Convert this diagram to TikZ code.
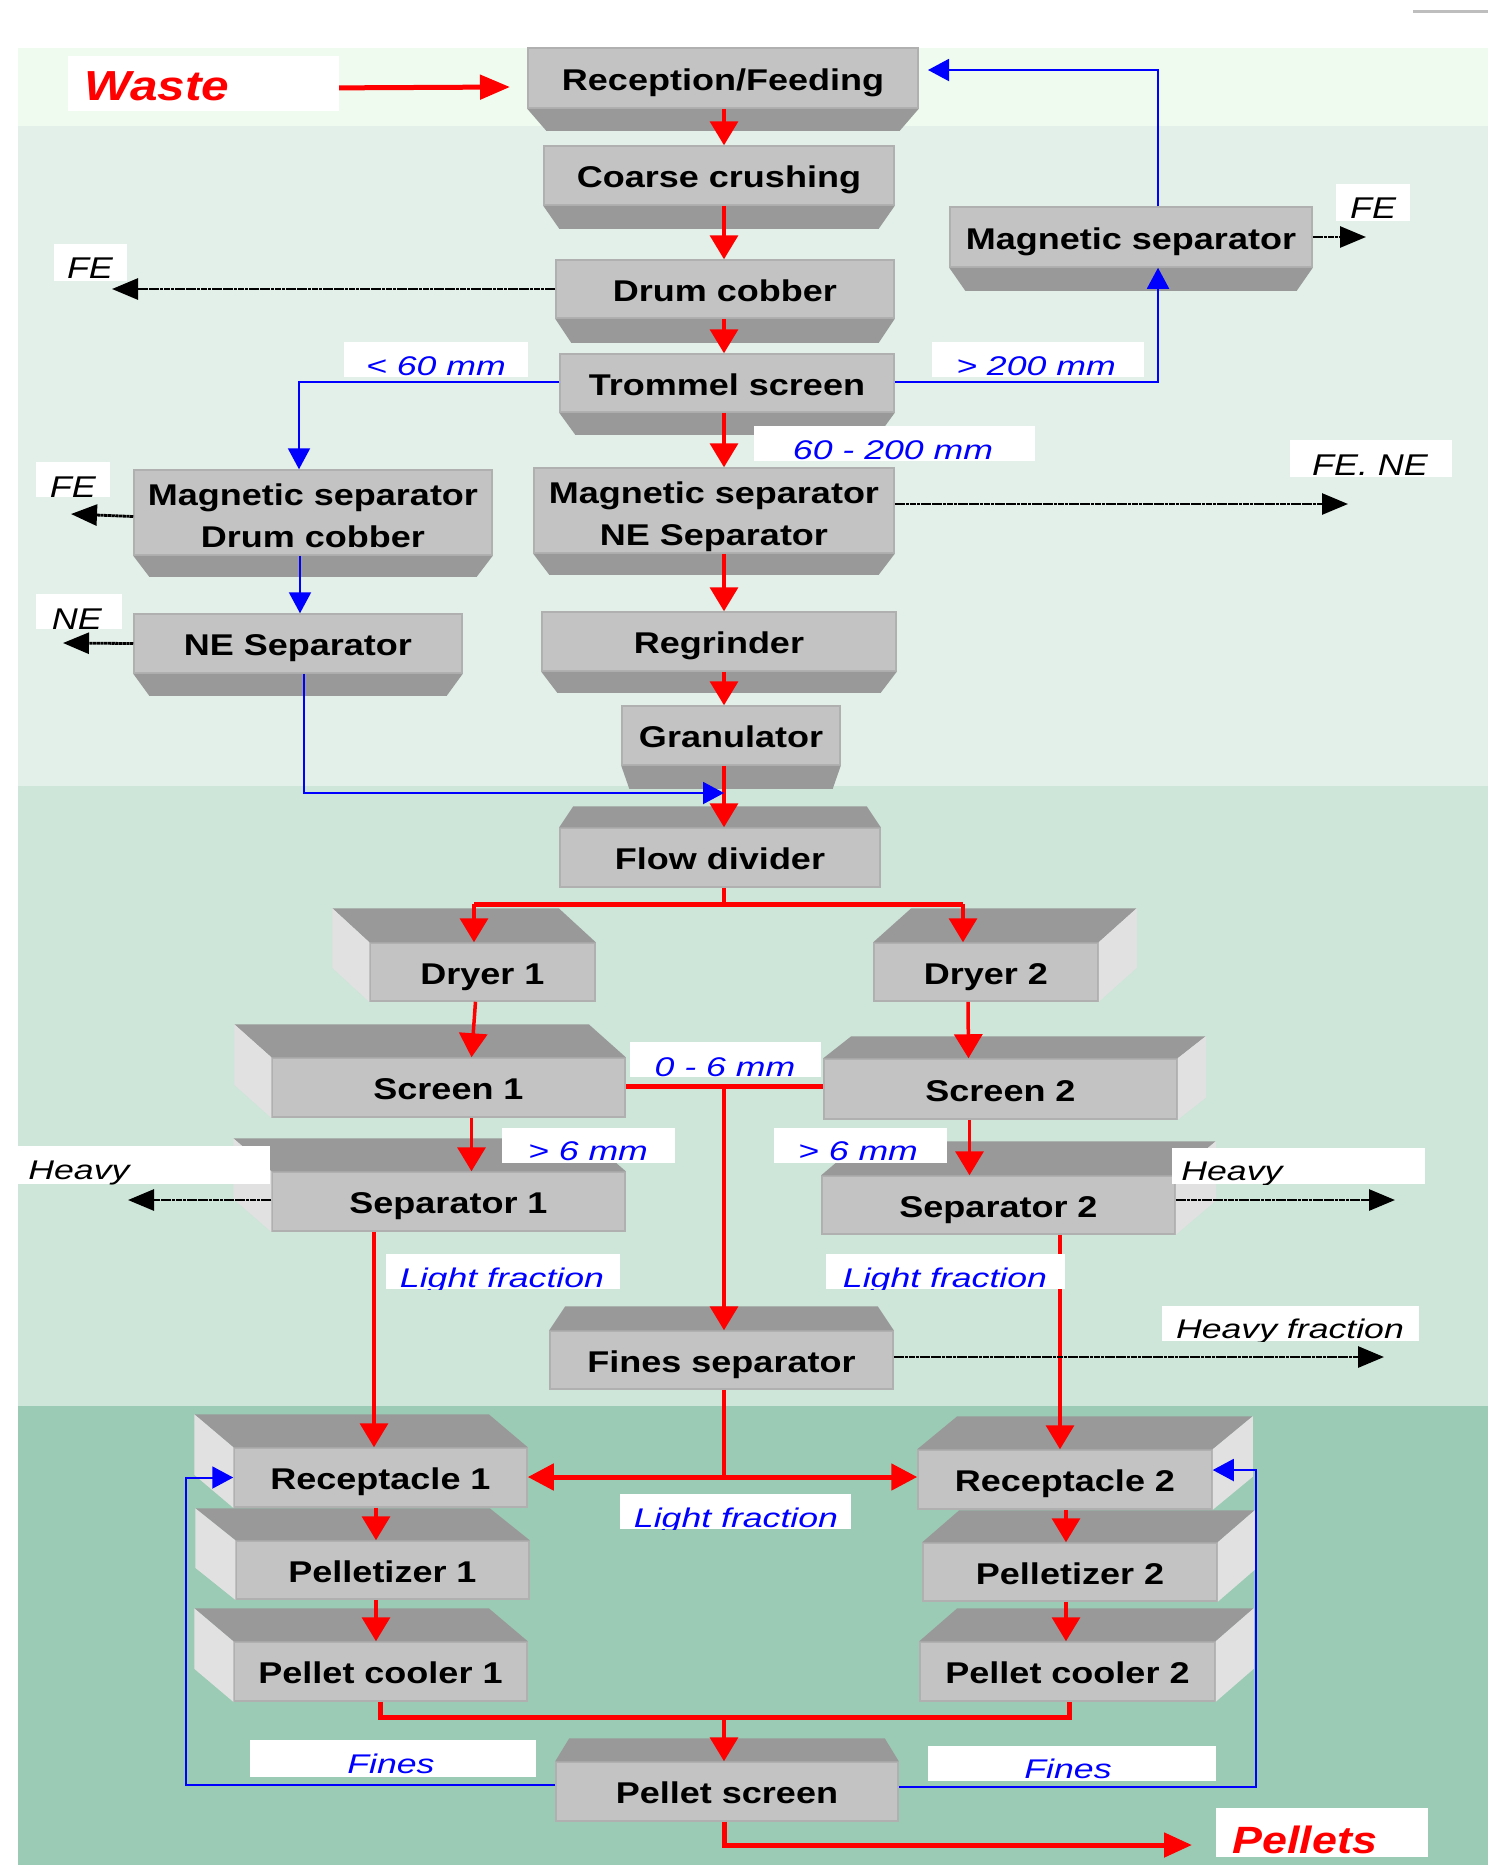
\documentclass[tikz,border=0pt]{standalone}
\usepackage{fontspec}
\usetikzlibrary{arrows.meta,calc}
\newfontfamily\bxf{Liberation Sans Bold}[FakeStretch=1.2]
\newfontfamily\lbf{Liberation Sans Italic}[FakeStretch=1.32]
\newfontfamily\fef{Liberation Sans Italic}[FakeStretch=1.2]
\newfontfamily\wpf{Liberation Sans Bold Italic}[FakeStretch=1.18]
\definecolor{faceC}{HTML}{C3C3C3}
\definecolor{edgeC}{HTML}{B0B0B0}
\definecolor{darkC}{HTML}{999999}
\definecolor{sideC}{HTML}{E1E1E1}
\definecolor{bgT}{HTML}{EEFBEE}
\definecolor{bgA}{HTML}{E3F0E9}
\definecolor{bgB}{HTML}{CEE5D9}
\definecolor{bgC}{HTML}{9BCBB4}
\definecolor{myred}{HTML}{FF0000}
\definecolor{myblue}{HTML}{0000FF}
\definecolor{lineG}{HTML}{BEBEBE}
\tikzset{
 bx/.style={fill=faceC, draw=edgeC, line width=0.75pt, inner sep=0pt,
   font=\bxf\fontsize{15}{21}\selectfont, align=center, text height=12pt, text depth=0pt},
 bxtwo/.style={bx, text height=34.5pt, text depth=0pt},
 redA/.style={draw=myred, line width=1.75pt, -{Triangle[length=12pt,width=14pt]}},
 redL/.style={draw=myred, line width=1.75pt},
 redT/.style={draw=myred, line width=2.5pt},
 blueA/.style={draw=myblue, line width=1pt, -{Triangle[length=10.5pt,width=11pt]}},
 blackA/.style={draw=black, line width=1.4pt, dash pattern=on 1.6pt off 0.25pt, -{Triangle[length=13pt,width=10.5pt]}},
 lblB/.style={font=\lbf\fontsize{13.5}{16}\selectfont, text=myblue, anchor=base},
 lblK/.style={font=\lbf\fontsize{13.5}{16}\selectfont, text=black, anchor=base},
 lblKw/.style={font=\lbf\fontsize{13.5}{16}\selectfont, text=black, anchor=base west},
 feK/.style={font=\fef\fontsize{15}{18}\selectfont, text=black, anchor=base},
 wasteS/.style={font=\wpf\fontsize{21}{24}\selectfont, text=myred, anchor=base west},
 pelS/.style={font=\wpf\fontsize{19}{22}\selectfont, text=myred, anchor=base west},
}
% trapezoid below face: name, dy, inset
\newcommand\bxBelow[3]{\fill[darkC] (#1.south west) -- (#1.south east) -- ([shift={(-#3,#2)}]#1.south east) -- ([shift={(#3,#2)}]#1.south west) -- cycle;}
% trapezoid above face
\newcommand\bxAbove[3]{\fill[darkC] (#1.north west) -- (#1.north east) -- ([shift={(-#3,-#2)}]#1.north east) -- ([shift={(#3,-#2)}]#1.north west) -- cycle;}
% 3D box, side at left: name, dx, dy
\newcommand\bxLeft[3]{%
 \fill[darkC] (#1.north west) -- (#1.north east) -- ([shift={(-#2,-#3)}]#1.north east) -- ([shift={(-#2,-#3)}]#1.north west) -- cycle;
 \fill[sideC] (#1.north west) -- ([shift={(-#2,-#3)}]#1.north west) -- ([shift={(-#2,-#3)}]#1.south west) -- (#1.south west) -- cycle;}
% 3D box, side at right
\newcommand\bxRight[3]{%
 \fill[darkC] (#1.north west) -- (#1.north east) -- ([shift={(#2,-#3)}]#1.north east) -- ([shift={(#2,-#3)}]#1.north west) -- cycle;
 \fill[sideC] (#1.north east) -- ([shift={(#2,-#3)}]#1.north east) -- ([shift={(#2,-#3)}]#1.south east) -- (#1.south east) -- cycle;}
% label: name, x1,y1,x2,y2, style, x, y, text
\newcommand\lbl[9]{\begin{scope}\fill[white] (#2,#3) rectangle (#4,#5);\clip (#2,#3) rectangle (#4,#5);\node[inner sep=0pt,#6] (#1) at (#7,#8) {#9};\end{scope}}
\begin{document}
\begin{tikzpicture}[x=0.5pt,y=-0.5pt]
\useasboundingbox (0,0) rectangle (1488,1865);
% backgrounds
\fill[white] (0,0) rectangle (1488,1865);
\fill[bgT] (18,48) rectangle (1488,126);
\fill[bgA] (18,126) rectangle (1488,786);
\fill[bgB] (18,786) rectangle (1488,1406);
\fill[bgC] (18,1406) rectangle (1488,1865);
\draw[lineG, line width=1.5pt] (1413,11.5) -- (1488,11.5);

% upper boxes
\node[bx, minimum width=195pt, minimum height=30pt] (rec) at (723,78) {Reception/Feeding};
\bxBelow{rec}{22}{19}
\node[bx, minimum width=175pt, minimum height=29.5pt] (coarse) at (719,175.5) {Coarse crushing};
\bxBelow{coarse}{23}{16}
\node[bx, minimum width=169pt, minimum height=29pt] (drum) at (725,289) {Drum cobber};
\bxBelow{drum}{24}{16}
\node[bx, minimum width=167pt, minimum height=29pt] (trommel) at (727,383) {Trommel screen};
\bxBelow{trommel}{22}{16}
\node[bx, minimum width=181pt, minimum height=30pt] (magR) at (1131,237) {Magnetic separator};
\bxBelow{magR}{23}{16}
\node[bxtwo, minimum width=179pt, minimum height=42.5pt] (magL) at (313,512.5) {Magnetic separator\\Drum cobber};
\bxBelow{magL}{21}{16}
\node[bxtwo, minimum width=180pt, minimum height=42.5pt] (magNE) at (714,510.5) {Magnetic separator\\NE Separator};
\bxBelow{magNE}{21}{16}
\node[bx, minimum width=164pt, minimum height=29.5pt] (neSep) at (298,643.5) {NE Separator};
\bxBelow{neSep}{22}{16}
\node[bx, minimum width=177pt, minimum height=29.5pt] (regr) at (719,641.5) {Regrinder};
\bxBelow{regr}{21}{16}
\node[bx, minimum width=109pt, minimum height=29.5pt] (gran) at (731,735.5) {Granulator};
\bxBelow{gran}{23}{8}
% inverted funnels
\node[bx, minimum width=160pt, minimum height=29.5pt] (flow) at (720,857.5) {Flow divider};
\bxAbove{flow}{21}{14}
\node[bx, minimum width=171.5pt, minimum height=29pt] (fines) at (721.5,1360) {Fines separator};
\bxAbove{fines}{24}{16}
\node[bx, minimum width=171pt, minimum height=29.5pt] (pscreen) at (727,1791.5) {Pellet screen};
\bxAbove{pscreen}{23}{14}
% 3D boxes
\node[bx, minimum width=112.5pt, minimum height=29pt] (dryer1) at (482.5,972) {Dryer 1};
\bxLeft{dryer1}{37}{34}
\node[bx, minimum width=112pt, minimum height=29pt] (dryer2) at (986,972) {Dryer 2};
\bxRight{dryer2}{38}{34}
\node[bx, minimum width=176.5pt, minimum height=29.5pt] (screen1) at (448.5,1087.5) {Screen 1};
\bxLeft{screen1}{37}{33}
\node[bx, minimum width=176.5pt, minimum height=30pt] (screen2) at (1000.5,1089) {Screen 2};
\bxRight{screen2}{28}{22}
\node[bx, minimum width=176.5pt, minimum height=29.5pt] (sep1) at (448.5,1201.5) {Separator 1};
\bxLeft{sep1}{38}{33}
\node[bx, minimum width=176.5pt, minimum height=29pt] (sep2) at (998.5,1205) {Separator 2};
\bxRight{sep2}{40}{34}
\node[bx, minimum width=146.5pt, minimum height=29.5pt] (rcp1) at (380.5,1477.5) {Receptacle 1};
\bxLeft{rcp1}{39}{33}
\node[bx, minimum width=147pt, minimum height=29.5pt] (rcp2) at (1065,1479.5) {Receptacle 2};
\bxRight{rcp2}{40}{33}
\node[bx, minimum width=146.5pt, minimum height=29pt] (pel1) at (382.5,1570) {Pelletizer 1};
\bxLeft{pel1}{40}{32}
\node[bx, minimum width=147pt, minimum height=29pt] (pel2) at (1070,1572) {Pelletizer 2};
\bxRight{pel2}{37}{32}
\node[bx, minimum width=146.5pt, minimum height=29.5pt] (cool1) at (380.5,1671.5) {Pellet cooler 1};
\bxLeft{cool1}{39}{33}
\node[bx, minimum width=147.5pt, minimum height=29.5pt] (cool2) at (1067.5,1671.5) {Pellet cooler 2};
\bxRight{cool2}{38}{33}

% coordinates
\coordinate (colx) at (724,0);
\coordinate (fsplit) at (724,904);
\coordinate (fL) at (474,904);
\coordinate (fR) at (963,904);
\coordinate (sc6) at (724,1086);
\coordinate (lx) at (374,0);
\coordinate (rx) at (1060,0);
\coordinate (fs) at (724,1477);
\coordinate (lx2) at (376,0);
\coordinate (rx2) at (1066,0);
\coordinate (cL) at (380,1717);
\coordinate (cR) at (1069,1717);
\coordinate (cj) at (724,1717);
\coordinate (pe) at (1192,1845);
\coordinate (wA) at (314,88);
\coordinate (wB) at (510,87);

% red connectors
\draw[redT, -{Triangle[length=15pt,width=12pt]}] (wA) -- (wB);
\draw[redA] (colx |- rec.south) -- (colx |- coarse.north);
\draw[redA] (colx |- coarse.south) -- (colx |- drum.north);
\draw[redA] (colx |- drum.south) -- (colx |- trommel.north);
\draw[redA] (colx |- trommel.south) -- (colx |- magNE.north);
\draw[redA] (colx |- magNE.south) -- (colx |- regr.north);
\draw[redA] (colx |- regr.south) -- (colx |- gran.north);
\draw[redA] (colx |- gran.south) -- (colx |- flow.north);
\draw[redL] (colx |- flow.south) -- (fsplit);
\draw[redT] (fL) -- (fR);
\draw[redA] (fL) -- (fL |- dryer1.north);
\draw[redA] (fR) -- (fR |- dryer2.north);
\draw[redA] ([shift={(-7,0)}]dryer1.south) -- ([shift={(23,0)}]screen1.north);
\draw[redA] ([shift={(-18,0)}]dryer2.south) -- ([shift={(-32,0)}]screen2.north);
\draw[redA] ([shift={(23,0)}]screen1.south) -- ([shift={(23,0)}]sep1.north);
\draw[redA] ([shift={(-31,0)}]screen2.south) -- ([shift={(-29,0)}]sep2.north);
\draw[redT] (screen1.east |- sc6) -- (screen2.west |- sc6);
\draw[redA] (sc6) -- (colx |- fines.north);
\draw[redA] (lx |- sep1.south) -- (lx |- rcp1.north);
\draw[redA] (rx |- sep2.south) -- (rx |- rcp2.north);
\draw[redL] (colx |- fines.south) -- (fs);
\draw[redT, {Triangle[length=13pt,width=13pt]}-{Triangle[length=13pt,width=13pt]}] (rcp1.east |- fs) -- (rcp2.west |- fs);
\draw[redA] (lx2 |- rcp1.south) -- (lx2 |- pel1.north);
\draw[redA] (lx2 |- pel1.south) -- (lx2 |- cool1.north);
\draw[redA] (rx2 |- rcp2.south) -- (rx2 |- pel2.north);
\draw[redA] (rx2 |- pel2.south) -- (rx2 |- cool2.north);
\draw[redT] (cL |- cool1.south) -- (cL) -- (cR) -- (cR |- cool2.south);
\draw[redA] (cj) -- (colx |- pscreen.north);
\draw[redT, -{Triangle[length=14pt,width=12pt]}] (colx |- pscreen.south) -- (colx |- pe) -- (pe);

% blue connectors
\coordinate (bL) at (299,382);
\coordinate (bR) at (1158,382);
\coordinate (bT) at (1158,70);
\coordinate (bTe) at (928,70);
\coordinate (lb) at (300,0);
\coordinate (nb) at (304,793);
\coordinate (fl) at (186,1785);
\coordinate (fr) at (1256,1787);
\coordinate (fr2) at (1256,1470);
\draw[blueA] (trommel.west |- bL) -- (bL) -- (bL |- magL.north);
\draw[blueA] (trommel.east |- bR) -- (bR) -- (bR |- magR.south);
\draw[blueA] (bT |- magR.north) -- (bT) -- (bTe);
\draw[blueA] (lb |- magL.south) -- (lb |- neSep.north);
\draw[blueA] (nb |- neSep.south) -- (nb) -- (colx |- nb);
\draw[blueA] (pscreen.west |- fl) -- (fl) -- (fl |- rcp1.west) -- (rcp1.west);
\draw[blueA] (pscreen.east |- fr) -- (fr) -- (fr2) -- (rcp2.east |- fr2);

% black connectors
\coordinate (k1) at (112,292);
\coordinate (k2) at (1366,236);
\coordinate (k3) at (71,514);
\coordinate (k4) at (63,643);
\coordinate (k5) at (1348,504);
\coordinate (k6) at (128,1200);
\coordinate (k7) at (1395,1200);
\coordinate (k8) at (1384,1357);
\draw[blackA] (drum.west) -- (k1 |- drum.west);
\draw[blackA] (magR.east) -- (k2 |- magR.east);
\draw[blackA] ([shift={(0,4)}]magL.west) -- (k3);
\draw[blackA] (neSep.west) -- (k4);
\draw[blackA] (magNE.east |- k5) -- (k5);
\draw[blackA] (sep1.west |- k6) -- (k6);
\draw[blackA] (sep2.east |- k7) -- (k7);
\draw[blackA] (fines.east |- k8) -- (k8);

% labels
\lbl{lWaste}{68}{56}{339}{111}{wasteS}{84}{100}{Waste}
\lbl{l60}{344}{342}{528}{377}{lblB}{436}{375}{< 60 mm}
\lbl{l200}{932}{342}{1144}{377}{lblB}{1036}{375}{> 200 mm}
\lbl{l60200}{754}{426}{1035}{461}{lblB}{893}{459}{60 - 200 mm}
\lbl{lFE1}{54}{244}{127}{281}{feK}{90}{278}{FE}
\lbl{lFE2}{1336}{184}{1410}{221}{feK}{1373}{218}{FE}
\lbl{lFENE}{1290}{440}{1452}{477}{feK}{1370}{475}{FE. NE}
\lbl{lFE3}{36}{462}{110}{497}{feK}{73}{497}{FE}
\lbl{lNE}{36}{594}{122}{629}{feK}{77}{629}{NE}
\lbl{l06}{630}{1042}{821}{1077}{lblB}{725}{1076}{0 - 6 mm}
\lbl{l6a}{502}{1128}{675}{1163}{lblB}{588}{1160}{> 6 mm}
\lbl{l6b}{774}{1128}{947}{1163}{lblB}{858}{1160}{> 6 mm}
\lbl{lHv1}{18}{1146}{270}{1184}{lblKw}{28}{1179}{Heavy}
\lbl{lHv2}{1172}{1148}{1425}{1184}{lblKw}{1181}{1180}{Heavy}
\lbl{lLf1}{386}{1254}{620}{1289}{lblB}{502}{1287}{Light fraction}
\lbl{lLf2}{826}{1254}{1065}{1289}{lblB}{945}{1287}{Light fraction}
\lbl{lHf}{1162}{1306}{1419}{1341}{lblK}{1290}{1338}{Heavy fraction}
\lbl{lLf3}{620}{1494}{851}{1529}{lblB}{736}{1527}{Light fraction}
\lbl{lFi1}{250}{1740}{536}{1777}{lblB}{391}{1773}{Fines}
\lbl{lFi2}{928}{1746}{1216}{1781}{lblB}{1068}{1778}{Fines}
\lbl{lPel}{1216}{1808}{1428}{1857}{pelS}{1232}{1853}{Pellets}
\end{tikzpicture}
\end{document}
